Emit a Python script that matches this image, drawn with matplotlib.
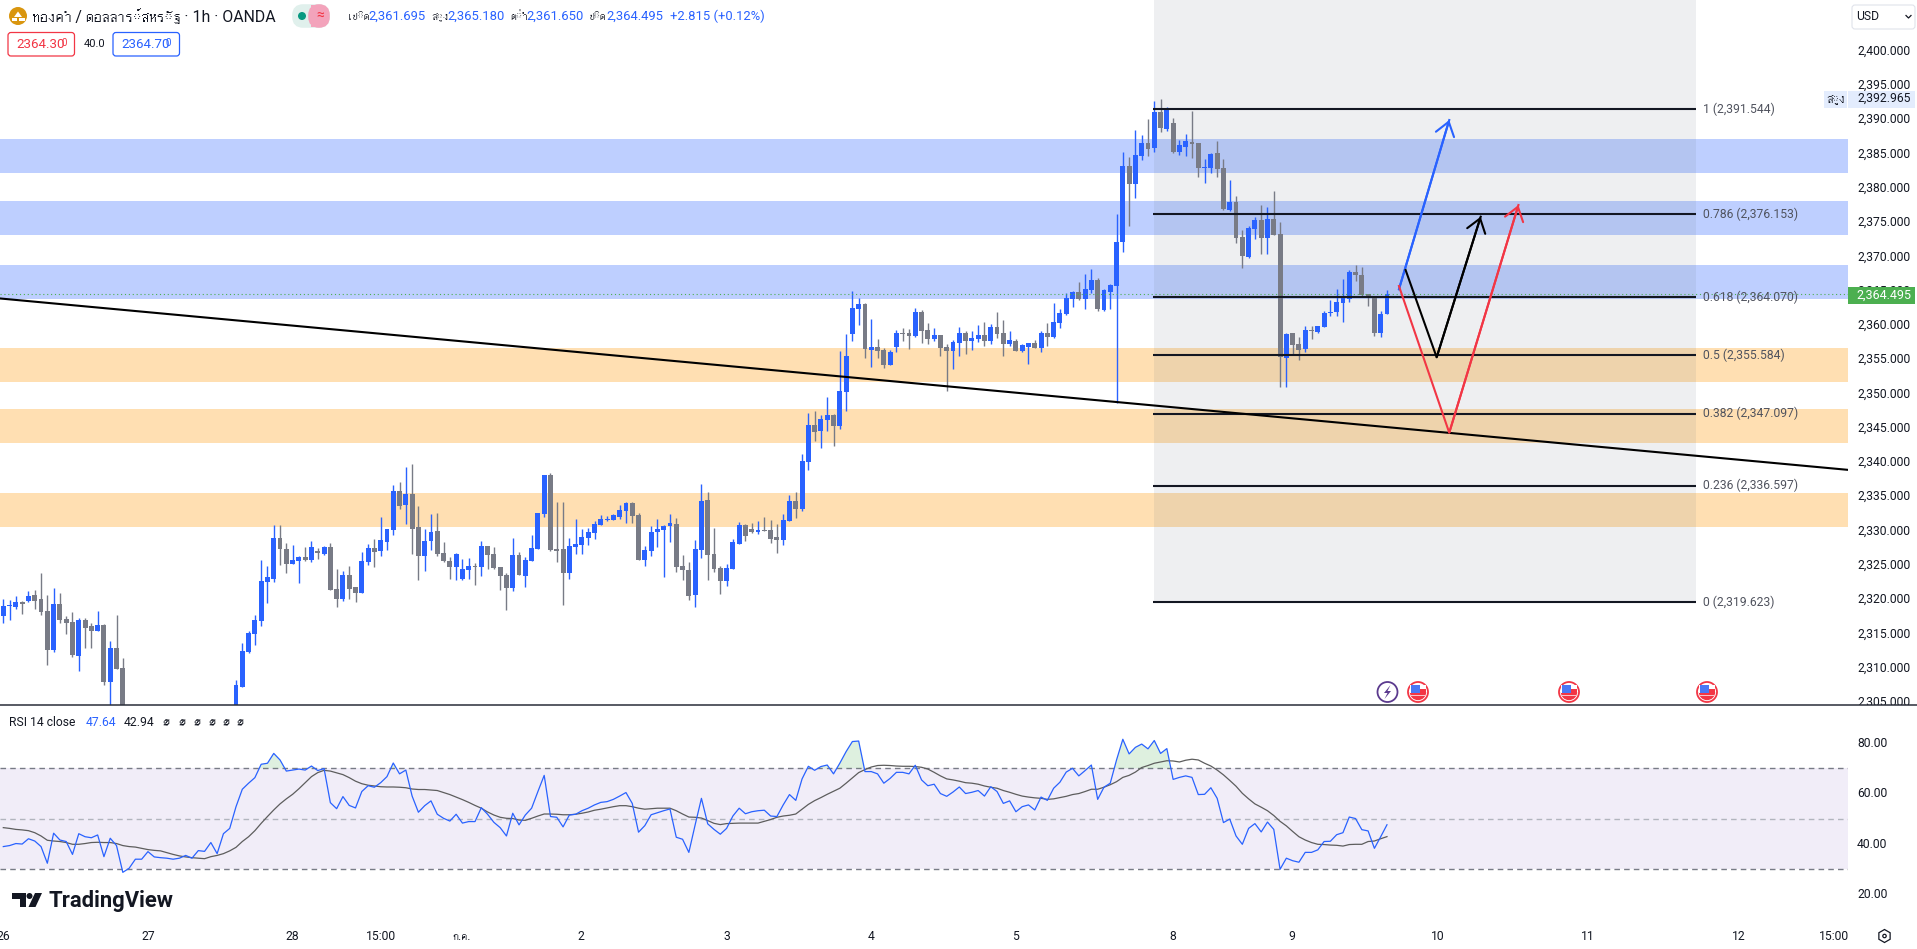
import numpy as np
import matplotlib
matplotlib.use("Agg")
import matplotlib.pyplot as plt
from matplotlib import font_manager as fm
from matplotlib.ft2font import FT2Font
from matplotlib.patches import Circle, FancyArrowPatch, FancyBboxPatch, Polygon, Rectangle, Wedge
from matplotlib.transforms import ScaledTranslation

thai_families = []
for path in fm.findSystemFonts():
    try:
        if 0x0E01 in FT2Font(path).get_charmap():
            name = fm.FontProperties(fname=path).get_name()
            if name not in thai_families:
                thai_families.append(name)
    except Exception:
        pass
plt.rcParams['font.family'] = ['Roboto'] + thai_families + ['DejaVu Sans', 'Noto Sans', 'Liberation Sans']
nan = float('nan')

opens = [2317.6,2319.0,2318.9,2319.6,2319.8,2320.6,2320.0,2318.3,2312.6,2319.3,
 2317.1,2316.7,2311.7,2317.0,2316.1,2315.4,2316.3,2308.0,2312.9,2310.0] + [nan]*17 + [2303.0,2307.2,2312.3,
 2315.0,2316.9,2322.5,2323.0,2329.0,2327.4,2325.2,2325.6,2326.2,2325.8,
 2326.9,2326.6,2327.6,2321.5,2320.0,2323.6,2321.8,2320.9,2325.5,2327.5,
 2327.1,2328.4,2330.1,2335.8,2333.8,2335.4,2330.6,2326.3,2328.5,2330.0,
 2326.8,2325.6,2324.7,2323.0,2324.3,2324.9,2324.7,2327.8,2326.6,2324.7,
 2323.6,2321.7,2326.5,2323.4,2325.6,2327.4,2332.5,2338.2,2327.4,2327.4,
 2323.8,2327.6,2327.9,2329.0,2329.7,2330.9,2331.6,2331.6,2332.0,2332.9,
 2334.1,2332.3,2325.7,2327.1,2329.8,2330.1,2330.7,2331.0,2324.9,2324.3,
 2320.6,2327.2,2334.5,2326.6,2324.6,2322.7,2324.4,2328.1,2330.85,2330.3,
 2329.8,2330.1,2330.1,2329.1,2328.7,2331.4,2334.35,2333.2,2340.0,2345.4,
 2344.6,2346.2,2346.9,2345.3,2350.3,2358.7,2362.4,2363.1,2356.4,2356.8,
 2356.4,2354.2,2356.8,2358.9,2358.9,2358.4,2361.9,2359.3,2358.0,2358.6,
 2356.8,2356.2,2357.4,2358.9,2357.7,2358.0,2358.6,2357.7,2359.7,2358.9,
 2357.3,2357.7,2356.2,2356.8,2357.4,2356.7,2358.9,2358.3,2360.3,2361.6,
 2363.8,2364.8,2363.8,2365.1,2366.6,2362.2,2364.8,2365.7,2372.1,2383.2,
 2380.6,2384.7,2386.6,2385.85,2391.1,2388.6,2389.5,2385.3,2386.0,2386.7,
 2386.6,2382.9,2382.9,2385.1,2382.9,2376.8,2378.0,2372.9,2369.95,2374.0,
 2375.3,2372.7,2375.5,2373.3,2355.2,2358.9,2357.25,2356.5,2359.3,2359.0,
 2359.7,2361.8,2361.9,2363.2,2363.8,2367.8,2367.3,2364.55,2364.3,2358.9,
 2361.695]

closes = [2319.0,2319.2,2319.6,2319.3,2320.5,2319.8,2318.2,2312.6,2319.3,2317.0,
 2316.6,2311.9,2317.0,2315.8,2315.4,2316.3,2308.0,2312.9,2309.8,2302.0] + [nan]*17 + [2307.5,2312.5,2315.1,
 2317.0,2322.7,2323.3,2329.0,2327.4,2325.2,2325.8,2326.2,2325.8,2327.6,
 2326.8,2327.6,2321.4,2320.0,2323.6,2321.5,2320.9,2325.6,2327.5,2326.9,
 2328.7,2330.3,2335.8,2333.6,2335.4,2330.3,2326.3,2328.5,2329.8,2326.6,
 2325.6,2324.7,2326.6,2324.4,2324.9,2324.7,2327.8,2326.5,2324.6,2323.4,
 2321.7,2326.5,2323.6,2325.8,2327.5,2332.6,2338.2,2327.2,2327.1,2323.8,
 2327.8,2328.1,2329.1,2329.8,2331.0,2331.7,2331.7,2332.3,2333.0,2334.1,
 2332.2,2325.7,2327.2,2329.8,2330.3,2330.7,2331.2,2324.7,2324.3,2320.5,
 2327.4,2334.4,2326.5,2324.4,2322.7,2324.6,2328.4,2330.85,2329.2,2329.8,
 2330.1,2330.0,2328.8,2328.7,2331.6,2334.35,2333.2,2340.2,2345.4,2344.4,
 2346.3,2346.9,2345.3,2350.4,2355.5,2362.5,2363.1,2356.5,2356.8,2356.2,
 2354.2,2356.1,2358.9,2358.7,2358.4,2361.9,2359.15,2358.0,2358.6,2356.7,
 2356.2,2357.55,2358.9,2357.7,2358.1,2358.6,2357.7,2359.7,2358.7,2357.3,
 2357.8,2356.2,2357.1,2357.4,2356.7,2358.9,2358.3,2360.5,2361.8,2364.0,
 2364.8,2363.8,2365.3,2366.6,2362.4,2365.1,2365.9,2372.1,2383.2,2380.6,
 2384.8,2386.6,2385.7,2391.1,2388.8,2391.7,2385.3,2386.3,2386.9,2386.4,
 2382.9,2383.1,2385.0,2382.8,2376.95,2378.0,2372.7,2370.1,2374.2,2375.3,
 2372.7,2375.5,2373.2,2355.4,2358.7,2357.1,2356.4,2359.3,2359.15,2359.9,
 2361.8,2361.9,2363.4,2364.0,2367.8,2367.3,2364.4,2364.1,2358.9,2361.6,
 2364.495]

highs = [2320.0,2319.9,2320.5,2319.8,2321.2,2321.4,2323.8,2320.6,2321.7,2320.9,
 2317.6,2318.2,2317.3,2317.3,2316.6,2318.3,2316.4,2313.9,2317.7,2311.5] + [nan]*17 + [2308.2,2313.6,2315.4,
 2317.7,2325.8,2324.9,2330.9,2330.9,2328.2,2327.9,2326.3,2327.6,2328.5,
 2327.5,2327.8,2328.2,2324.4,2324.1,2324.9,2321.8,2326.9,2328.1,2328.8,
 2332.0,2330.3,2336.7,2337.1,2339.3,2339.8,2333.6,2330.3,2332.5,2332.6,
 2328.4,2326.2,2326.8,2325.9,2326.0,2325.3,2328.5,2327.8,2327.6,2324.7,
 2323.8,2329.0,2326.9,2326.2,2329.4,2332.6,2338.2,2338.4,2334.2,2334.2,
 2329.0,2331.7,2330.3,2330.4,2331.4,2332.3,2332.2,2332.5,2333.8,2334.2,
 2334.2,2332.6,2327.8,2330.7,2331.7,2330.9,2332.5,2331.9,2326.5,2325.5,
 2328.7,2336.8,2335.7,2330.4,2324.9,2325.2,2328.8,2331.3,2331.0,2331.1,
 2331.4,2332.0,2331.6,2331.0,2332.5,2335.2,2335.7,2341.2,2347.2,2347.5,
 2346.9,2349.5,2347.0,2356.2,2358.7,2365.0,2364.0,2363.2,2360.9,2358.0,
 2356.7,2356.4,2359.3,2359.6,2359.4,2362.5,2362.2,2360.3,2359.6,2358.6,
 2357.3,2357.8,2359.7,2359.15,2359.15,2360.0,2360.5,2360.2,2361.9,2360.8,
 2359.15,2358.0,2357.3,2357.4,2357.8,2359.15,2360.3,2363.2,2362.4,2364.7,
 2365.0,2366.3,2367.5,2368.2,2366.9,2365.3,2366.0,2376.2,2385.3,2384.5,
 2388.5,2387.7,2390.1,2392.7,2393.0,2391.8,2390.2,2387.0,2387.9,2391.25,
 2386.6,2384.2,2385.1,2386.9,2384.2,2381.2,2378.85,2373.9,2374.5,2375.8,
 2377.5,2377.2,2379.6,2375.05,2358.9,2358.9,2358.3,2359.9,2359.9,2359.9,
 2362.1,2363.7,2365.3,2366.7,2368.05,2368.8,2368.5,2364.55,2364.3,2362.1,
 2365.18]

lows = [2316.6,2317.0,2318.6,2317.9,2319.6,2318.6,2317.7,2310.4,2312.3,2316.6,
 2315.0,2311.6,2309.6,2312.9,2312.9,2315.4,2307.5,2300.0,2309.8,2300.0] + [nan]*17 + [2302.0,2307.2,2312.2,
 2313.4,2316.1,2319.5,2322.5,2325.0,2323.8,2325.2,2322.4,2325.6,2325.5,
 2325.9,2326.5,2321.4,2318.9,2319.8,2320.0,2319.6,2320.9,2325.0,2324.7,
 2326.3,2327.2,2329.4,2333.2,2331.0,2326.6,2322.8,2324.1,2327.2,2326.3,
 2325.5,2323.0,2322.8,2322.8,2323.0,2322.1,2323.4,2324.4,2324.4,2321.4,
 2318.5,2321.2,2323.6,2321.8,2325.6,2327.4,2332.0,2327.1,2325.5,2319.2,
 2323.0,2326.6,2326.6,2327.9,2328.8,2330.9,2331.4,2331.6,2331.7,2331.1,
 2331.1,2325.7,2324.9,2326.3,2327.6,2323.3,2328.4,2324.0,2322.8,2319.9,
 2318.9,2326.0,2322.8,2324.0,2320.8,2322.0,2324.4,2328.1,2328.5,2329.7,
 2329.5,2330.0,2328.2,2326.8,2327.9,2331.4,2331.9,2332.9,2338.9,2343.1,
 2342.1,2344.6,2342.4,2344.9,2347.5,2357.7,2360.0,2355.2,2353.9,2355.2,
 2353.75,2354.2,2356.1,2357.7,2356.5,2358.3,2357.4,2357.3,2357.7,2355.5,
 2350.4,2353.6,2355.5,2355.8,2356.4,2357.55,2357.0,2357.3,2358.1,2355.5,
 2357.0,2356.2,2356.1,2354.3,2356.7,2356.1,2357.0,2358.1,2359.6,2361.5,
 2362.65,2363.7,2362.4,2364.7,2362.1,2362.1,2362.4,2348.6,2370.7,2374.5,
 2378.55,2384.1,2384.7,2385.3,2388.2,2388.3,2385.1,2384.8,2384.7,2384.4,
 2381.6,2380.7,2382.2,2381.6,2376.8,2376.7,2372.0,2368.3,2369.8,2372.6,
 2370.4,2370.4,2373.2,2351.0,2351.0,2355.65,2354.9,2356.1,2358.0,2358.9,
 2359.7,2361.3,2361.3,2360.5,2363.4,2366.4,2364.3,2362.8,2358.4,2358.3,
 2361.65]

rsi = [39.0,39.4,40.2,40.0,42.1,41.2,39.0,32.4,44.3,41.6,41.0,35.9,44.1,42.9,42.5,43.6,35.0,42.3,39.4,28.8,
 30.4,34.0,34.0,37.0,34.9,34.6,34.4,34.0,34.4,35.5,34.4,37.4,37.1,40.6,36.2,44.1,46.2,54.8,61.7,64.1,
 66.3,71.6,72.0,75.9,73.3,68.9,69.3,69.7,69.3,70.9,69.1,69.9,56.4,54.0,58.8,55.3,54.3,60.8,63.1,62.5,
 64.3,66.7,72.1,67.8,69.3,59.0,52.6,55.2,57.1,51.8,50.2,49.1,51.8,48.3,48.9,48.9,54.4,51.8,48.6,46.5,
 43.2,52.2,47.6,51.5,54.2,60.8,67.2,50.9,50.6,46.8,51.5,51.8,53.2,54.2,55.5,56.5,56.8,57.7,59.0,60.4,
 56.1,44.7,47.3,51.6,52.4,53.2,53.9,42.7,41.9,36.7,47.6,58.1,48.0,45.8,43.9,46.2,51.1,54.2,52.0,52.8,
 53.2,53.4,51.1,50.9,55.5,59.6,57.3,65.8,70.8,69.2,70.7,71.3,67.8,72.0,76.6,80.6,80.8,68.7,68.7,67.8,
 64.1,66.0,68.4,68.4,67.8,71.2,65.4,63.1,63.7,60.0,58.9,60.6,62.6,60.0,60.5,61.2,59.0,62.7,60.8,56.1,
 57.1,52.8,54.8,55.5,53.5,58.6,57.3,62.1,64.5,68.5,70.0,67.0,69.1,71.3,57.7,62.5,64.1,73.3,81.5,75.7,
 78.3,79.6,77.7,81.0,75.9,77.8,65.6,66.4,67.0,66.4,59.6,59.7,62.3,58.1,48.5,49.9,43.2,39.9,46.2,48.1,
 44.8,48.7,45.8,30.0,34.4,33.4,32.8,36.7,36.7,37.7,41.0,41.1,43.7,44.5,50.7,50.1,45.7,45.2,38.3,42.9,47.64]

rsi_ma = [46.5,46.2,45.8,45.6,45.3,44.5,43.2,41.5,41.2,41.0,40.6,39.9,39.9,40.2,40.6,40.7,40.6,40.6,40.2,39.4,
 39.0,38.8,38.3,37.8,37.5,37.3,36.6,35.9,35.3,34.9,34.6,34.4,34.2,35.0,35.5,36.2,37.3,38.7,41.0,42.9,
 45.3,48.2,50.9,53.5,55.9,57.9,59.7,61.9,64.3,66.7,68.3,69.2,68.9,68.2,67.5,66.3,64.9,63.9,63.3,63.0,
 62.7,62.6,62.6,62.5,62.3,61.8,61.6,61.6,61.4,61.2,60.4,59.6,58.6,57.6,56.5,55.3,54.2,52.7,51.5,50.6,
 50.2,50.1,49.5,49.4,50.2,51.1,51.9,51.9,51.8,51.6,51.6,51.8,52.2,52.7,53.4,53.8,54.3,54.8,55.2,55.2,
 54.8,54.2,53.8,54.0,54.2,54.2,54.2,53.2,51.9,50.7,50.6,50.3,49.3,48.2,47.7,48.1,48.2,48.3,48.3,48.3,
 48.3,49.0,49.7,50.6,51.1,51.4,51.9,53.8,55.7,57.2,58.4,59.7,60.9,62.1,64.1,66.2,68.3,69.5,70.5,71.1,
 71.2,71.1,70.9,70.8,70.8,70.7,70.4,69.7,68.4,67.0,65.8,65.4,64.9,64.3,64.1,63.7,63.0,62.5,62.1,61.2,
 60.5,59.7,59.0,58.6,58.3,58.1,57.7,57.9,58.4,58.9,59.6,60.0,60.8,61.7,61.7,62.5,63.5,64.7,66.4,67.2,
 68.5,70.3,71.1,72.0,72.5,73.0,72.9,72.5,73.2,73.6,73.3,72.0,70.9,69.3,67.4,65.2,62.9,60.1,57.9,55.9,
 54.6,53.2,51.3,49.0,47.2,45.0,42.9,41.6,40.6,39.9,39.8,39.6,39.5,39.2,39.8,39.9,39.9,41.0,41.2,42.1,42.94]

blue_zones = [(2382.2, 2387.16), (2373.16, 2378.1), (2363.82, 2368.78)]
orange_zones = [(2351.75, 2356.67), (2342.8, 2347.78), (2330.56, 2335.52)]
fib_ratios = ['1', '0.786', '0.618', '0.5', '0.382', '0.236', '0']
fib_prices = [2391.544, 2376.153, 2364.070, 2355.584, 2347.097, 2336.597, 2319.623]
fib_start, fib_end = 183.0, 269.1
trend_bars = [-0.5, 293.3]
trend_prices = [2363.9, 2338.9]
blue_path = ([221.9, 229.9], [2365.24, 2389.93])
black_path = ([222.96, 227.9, 234.9], [2368.05, 2355.32, 2375.83])
red_path = ([221.9, 229.9, 240.9], [2365.72, 2344.32, 2377.53])
price_ticks = list(range(2305, 2405, 5))
rsi_ticks = [20, 40, 60, 80]
time_pos = [0, 23, 46, 60.1, 72.9, 91.9, 115, 138, 161, 186, 204.9, 228, 252, 276, 291]
time_labels = ['26', '27', '28', '15:00', 'ก.ค.', '2', '3', '4', '5', '8', '9', '10', '11', '12', '15:00']
last_price = 2364.495

UP, DOWN, INK = '#2962ff', '#787b86', '#131722'
W, H = 1917, 949
AX_R, PRICE_B, RSI_B = 1848, 705, 925

fig = plt.figure(figsize=(W / 100, H / 100), dpi=100, facecolor='white')
ax = fig.add_axes([0, 1 - PRICE_B / H, AX_R / W, PRICE_B / H])
ar = fig.add_axes([0, 1 - RSI_B / H, AX_R / W, (RSI_B - PRICE_B) / H])

o, c, hi, lo = map(np.array, (opens, closes, highs, lows))
x = np.arange(len(o))
assert len(o) == len(c) == len(hi) == len(lo) == len(rsi) == len(rsi_ma) == 221

for a, b in blue_zones:
    ax.axhspan(a, b, color='#2962ff', alpha=0.3, lw=0, zorder=1)
for a, b in orange_zones:
    ax.axhspan(a, b, color='#ff9800', alpha=0.3, lw=0, zorder=1)
ax.fill_between([fib_start, fib_end], fib_prices[-1], 2407.44, color='#6b7580', alpha=0.11, lw=0, zorder=2)

cols = [UP if cc >= oo else DOWN for oo, cc in zip(opens, closes)]
ax.vlines(x, lo, hi, colors=cols, lw=1.0, zorder=3)
ax.bar(x, np.maximum(np.abs(c - o), 0.2), bottom=np.minimum(o, c), width=0.78, color=cols, lw=0, zorder=4)

ax.axhline(last_price, color='#4caf50', lw=0.8, ls=(0, (1, 2.5)), zorder=5)
for r, p in zip(fib_ratios, fib_prices):
    ax.plot([fib_start - 0.2, fib_end], [p, p], color=INK, lw=1.5, zorder=6, solid_capstyle='butt')
    ax.text(fib_end + 1.1, p, f"{r} ({p:,.3f})", color='#50535e', fontsize=8.7, va='center', ha='left', zorder=6)
ax.plot(trend_bars, trend_prices, color='black', lw=1.5, zorder=6)


def arrow(path, color):
    xs, ys = path
    ax.plot(xs, ys, color=color, lw=1.5, zorder=7, solid_joinstyle='miter')
    ax.add_patch(FancyArrowPatch((xs[-2], ys[-2]), (xs[-1], ys[-1]), zorder=7, color=color, lw=1.5,
                                 arrowstyle='->,head_length=0.95,head_width=0.68',
                                 shrinkA=0, shrinkB=0, mutation_scale=10))


arrow(blue_path, UP)
arrow(red_path, '#f23645')
arrow(black_path, 'black')

ax.set_xlim(-0.525, 293.3)
ax.set_ylim(2304.6, 2407.44)
ax.set_xticks([])
ax.yaxis.tick_right()
ax.set_yticks(price_ticks, [f"{v:,.3f}" for v in price_ticks])
ax.tick_params(axis='y', length=0, pad=6.5, labelsize=8.7, labelcolor=INK)

ar.axhspan(30, 70, color='#7e57c2', alpha=0.1, lw=0, zorder=1)
ar.axhline(70, color='#787b86', lw=1, ls=(0, (4, 3)), zorder=2)
ar.axhline(30, color='#787b86', lw=1, ls=(0, (4, 3)), zorder=2)
ar.axhline(50, color='#b2b5be', lw=1, ls=(0, (4, 3)), zorder=2)
ra = np.array(rsi)
ar.fill_between(x, 70, ra, where=ra > 70, interpolate=True, color='#4caf50', alpha=0.18, lw=0, zorder=2)
ar.plot(x, rsi_ma, color='#5d5d5d', lw=0.9, zorder=3)
ar.plot(x, rsi, color=UP, lw=0.9, zorder=4)
ar.set_xlim(-0.525, 293.3)
ar.set_ylim(7.94, 95.07)
ar.yaxis.tick_right()
ar.set_yticks(rsi_ticks, [f"{v:.2f}" for v in rsi_ticks])
ar.set_xticks(time_pos, time_labels)
ar.tick_params(axis='y', length=0, pad=6.5, labelsize=8.7, labelcolor=INK)
ar.tick_params(axis='x', length=0, pad=3.5, labelsize=8.7, labelcolor=INK)
lift = ScaledTranslation(0, 1.0 / 72, fig.dpi_scale_trans)
for a in (ax, ar):
    for s in a.spines.values():
        s.set_visible(False)
    a.patch.set_alpha(0)
    for lbl in a.get_yticklabels():
        lbl.set_transform(lbl.get_transform() + lift)

# Screen furniture drawn in figure pixels
ov = fig.add_axes([0, 0, 1, 1], zorder=10)
ov.set_xlim(0, W)
ov.set_ylim(H, 0)
ov.axis('off')
ov.patch.set_alpha(0)


def t(px, py, s, color=INK, size=9.4, ha='left', **kw):
    ov.text(px, py, s, color=color, fontsize=size, ha=ha, va='center', **kw)


ov.add_patch(Rectangle((AX_R, PRICE_B), W - AX_R, 14, color='white', lw=0))
ov.plot([0, W], [PRICE_B, PRICE_B], color='#2a2e39', lw=1.1)

# header
ov.add_patch(Circle((18, 16), 9, color='#d9960f', lw=0))
ov.add_patch(Polygon([(14, 17), (18, 11.5), (22, 17)], color='white', lw=0))
ov.add_patch(Rectangle((11.5, 18), 5.5, 2.5, color='white', lw=0))
ov.add_patch(Rectangle((19, 18), 5.5, 2.5, color='white', lw=0))
t(32, 16.5, 'ทองคำ / ดอลลาร์สหรัฐ · 1h · OANDA', size=11.4)
ov.add_patch(FancyBboxPatch((295, 7), 32, 18, boxstyle='round,pad=0,rounding_size=8', mutation_aspect=1,
                            fc='#e0f0ec', ec='#e0f0ec', lw=4, clip_on=False))
ov.add_patch(FancyBboxPatch((311, 7), 16, 18, boxstyle='round,pad=0,rounding_size=8',
                            fc='#f3a3bb', ec='#f3a3bb', lw=4))
ov.add_patch(Rectangle((311, 5), 8, 22, fc='#f3a3bb', lw=0))
ov.add_patch(Circle((302, 16), 4, color='#089981', lw=0))
t(320, 16, '≈', color='#f23645', size=10, ha='center')
for lx, lab, vx, val in [(347, 'เปิด', 368.5, '2,361.695'), (431, 'สูง', 447, '2,365.180'),
                         (510, 'ต่ำ', 526, '2,361.650'), (588, 'ปิด', 606, '2,364.495')]:
    t(lx, 16.5, lab, size=8.5)
    t(vx, 16.5, val, color=UP, size=9.4)
t(670, 16.5, '+2.815 (+0.12%)', color=UP, size=9.4)

for bx, col, txt in [(8, '#f23645', '2364.30'), (113, UP, '2364.70')]:
    ov.add_patch(FancyBboxPatch((bx, 32.5), 66.5, 23.5, boxstyle='round,pad=0,rounding_size=3',
                                fc='white', ec=col, lw=0.9))
    t(bx + 8, 44.5, txt, color=col, size=9.6)
    t(bx + 53, 42.5, '0', color=col, size=7)
t(84, 44, '40.0', size=8)

# price axis tags
ov.add_patch(FancyBboxPatch((1852, 5), 63, 24, boxstyle='round,pad=0,rounding_size=3', fc='white', ec='#e0e3eb', lw=0.8))
t(1856, 16.5, 'USD', size=8.7)
ov.plot([1906, 1908.5, 1911], [15.5, 18, 15.5], color=INK, lw=0.9)
ov.add_patch(Rectangle((1824, 91), 23, 16.7, color='#e3ecfd', lw=0))
ov.add_patch(Rectangle((1848, 91), 67, 16.7, color='#e3ecfd', lw=0))
t(1835.5, 99, 'สูง', size=9.2, ha='center')
t(1857, 98.5, '2,392.965', size=8.7)
ov.add_patch(Rectangle((1848, 287), 67, 17, color='#4caf50', lw=0))
t(1856.5, 295, '2,364.495', color='white', size=9)

# RSI legend
t(9, 722, 'RSI 14 close', size=8.7)
t(86, 722, '47.64', color=UP, size=8.7)
t(124, 722, '42.94', size=8.7)
for px in (162, 178, 193, 208, 222, 236):
    t(px, 722, '∅', size=9)

# TradingView mark
ov.add_patch(Polygon([(11.5, 893), (26, 893), (26, 907), (19.5, 907), (19.5, 899), (11.5, 899)], color=INK, lw=0))
ov.add_patch(Circle((29.5, 896), 3, color=INK, lw=0))
ov.add_patch(Polygon([(35, 893), (42, 893), (35.5, 907), (28.5, 907)], color=INK, lw=0))
t(48.5, 901.5, 'TradingView', size=15.8, weight='bold', family=['Roboto', 'DejaVu Sans'])


def flag(cx, cy=692):
    ov.add_patch(Circle((cx, cy), 10, fc='white', ec='#f23645', lw=1.3))
    ov.add_patch(Wedge((cx, cy), 8.2, 0, 180, fc='#f23645', lw=0))
    ov.add_patch(Rectangle((cx - 8, cy - 7), 16, 8, fc='white', lw=0))
    ov.add_patch(Rectangle((cx - 7, cy - 7), 8.5, 8, fc='#4a78f5', lw=0))
    ov.add_patch(Rectangle((cx + 1.5, cy - 3), 6.5, 4, fc='#f23645', lw=0))
    ov.add_patch(Rectangle((cx - 8, cy + 2.8), 16, 1.2, fc='#f8c4c9', lw=0))


for fx in (1418, 1569, 1707):
    flag(fx)
ov.add_patch(Circle((1387.5, 692), 10, fc='white', ec='#5b3a8e', lw=1.3))
ov.add_patch(Polygon([(1390.5, 685), (1384, 693), (1387.5, 693), (1384.5, 699), (1391, 691), (1387.5, 691)],
                     color='#5b3a8e', lw=0))

# settings glyph
ang = np.deg2rad(np.arange(0, 360, 60) + 30)
ov.add_patch(Polygon(np.c_[1884.5 + 6.5 * np.cos(ang), 936 + 6.5 * np.sin(ang)], fc='white', ec=INK, lw=0.9))
ov.add_patch(Circle((1884.5, 936), 1.7, fc='white', ec=INK, lw=0.9))

fig.savefig('out.png', dpi=100)
